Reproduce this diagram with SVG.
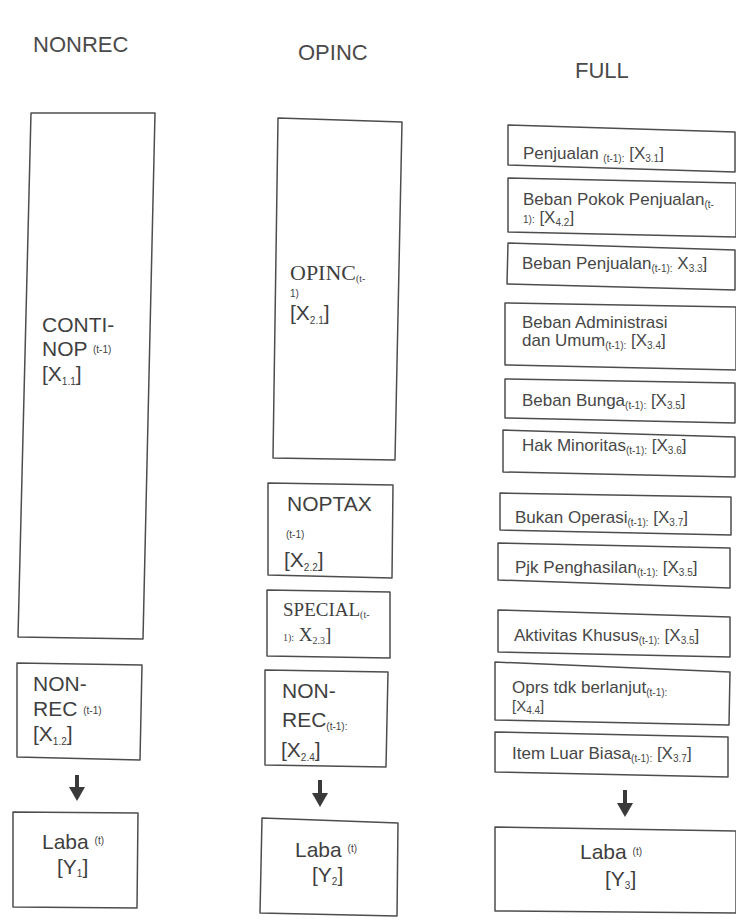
<svg xmlns="http://www.w3.org/2000/svg" width="736" height="921" viewBox="0 0 736 921">
<style>
.bg{fill:#ffffff}
.box{fill:none;stroke:#4d4d4d;stroke-width:1.5;stroke-linejoin:round}
.t{font-family:"Liberation Sans",Arial,sans-serif;fill:#3f3f3f}
.hd{font-size:22px;fill:#4a4a4a}
.big{font-size:21px}
.med{font-size:17px;fill:#474747}
.serif{font-family:"Liberation Serif","Times New Roman",serif}
.s{font-size:10px}
.arrow{stroke:#3a3a3a;stroke-width:4;fill:none}
</style>
<defs>
<marker id="head" markerUnits="userSpaceOnUse" markerWidth="14" markerHeight="16" refX="0" refY="8" orient="auto">
<path d="M0,0 L14,8 L0,16 Z" fill="#3a3a3a"/>
</marker>
</defs>
<rect class="bg" x="0" y="0" width="736" height="921"/>

<g id="headers">
<text class="t hd" x="33" y="52">NONREC</text>
<text class="t hd" x="298" y="60">OPINC</text>
<text class="t hd" x="575" y="78">FULL</text>
</g>

<!-- NONREC column -->
<g id="continop">
<polygon class="box" points="31,113 155,113 143,639 18,637"/>
<text class="t big" x="42" y="332">CONTI-</text>
<text class="t big" x="42" y="356">NOP <tspan class="s" dy="-3">(t-1)</tspan></text>
<text class="t big" x="42" y="381">[X<tspan class="s" dy="4">1.1</tspan><tspan dy="-4">]</tspan></text>
</g>
<g id="nonrec1">
<polygon class="box" points="17,663 142,665 140,760 17,757"/>
<text class="t big" x="33" y="691">NON-</text>
<text class="t big" x="33" y="716">REC <tspan class="s" dy="-2">(t-1)</tspan></text>
<text class="t big" x="33" y="741">[X<tspan class="s" dy="4">1.2</tspan><tspan dy="-4">]</tspan></text>
</g>
<g id="laba1">
<polygon class="box" points="13,812 138,813 137,908 13,907"/>
<text class="t big" x="42" y="849">Laba <tspan class="s" dy="-5">(t)</tspan></text>
<text class="t big" x="57" y="874">[Y<tspan class="s" dy="3">1</tspan><tspan dy="-3">]</tspan></text>
</g>

<!-- OPINC column -->
<g id="opinc">
<polygon class="box" points="278,118 402,122 395,460 273,458"/>
<text class="t big serif" x="290" y="280" style="font-size:22px">OPINC<tspan class="s" dy="2">(t-</tspan></text>
<text class="t s" x="290" y="297">1)</text>
<text class="t big" x="290" y="320">[X<tspan class="s" dy="4">2.1</tspan><tspan dy="-4">]</tspan></text>
</g>
<g id="noptax">
<polygon class="box" points="268,483 393,485 392,578 268,575"/>
<text class="t big" x="287" y="511">NOPTAX</text>
<text class="t s" x="286" y="538">(t-1)</text>
<text class="t big" x="284" y="567">[X<tspan class="s" dy="4">2.2</tspan><tspan dy="-4">]</tspan></text>
</g>
<g id="special">
<polygon class="box" points="267,590 390,592 390,658 267,656"/>
<text class="t serif" style="font-size:19px" x="283" y="616">SPECIAL<tspan class="s" dy="2">(t-</tspan></text>
<text class="t serif" style="font-size:19px" x="283" y="641"><tspan class="s">1):</tspan> X<tspan class="s" dy="3">2.3</tspan><tspan dy="-3">]</tspan></text>
</g>
<g id="nonrec2">
<polygon class="box" points="265,670 388,672 386,767 265,765"/>
<text class="t big" x="282" y="698">NON-</text>
<text class="t big" x="282" y="727">REC<tspan class="s" dy="3">(t-1):</tspan></text>
<text class="t big" x="281" y="757">[X<tspan class="s" dy="4">2.4</tspan><tspan dy="-4">]</tspan></text>
</g>
<g id="laba2">
<polygon class="box" points="262,818 398,823 397,916 260,913"/>
<text class="t big" x="295" y="857">Laba <tspan class="s" dy="-5">(t)</tspan></text>
<text class="t big" x="312" y="882">[Y<tspan class="s" dy="3">2</tspan><tspan dy="-3">]</tspan></text>
</g>

<!-- FULL column -->
<g id="penjualan">
<polygon class="box" points="508,125 735,132 735,172 508,165"/>
<text class="t med" x="523" y="159">Penjualan <tspan class="s" dy="3">(t-1):</tspan><tspan dy="-3"> [X</tspan><tspan class="s" dy="3">3.1</tspan><tspan dy="-3">]</tspan></text>
</g>
<g id="bpp">
<polygon class="box" points="508,178 736,183 736,237 508,232"/>
<text class="t med" x="523" y="205">Beban Pokok Penjualan<tspan class="s" dy="3">(t-</tspan></text>
<text class="t med" x="523" y="223"><tspan class="s">1):</tspan> [X<tspan class="s" dy="3">4.2</tspan><tspan dy="-3">]</tspan></text>
</g>
<g id="bpenj">
<polygon class="box" points="508,243 735,250 735,290 507,284"/>
<text class="t med" x="522" y="269">Beban Penjualan<tspan class="s" dy="3">(t-1):</tspan><tspan dy="-3"> X</tspan><tspan class="s" dy="3">3.3</tspan><tspan dy="-3">]</tspan></text>
</g>
<g id="badm">
<polygon class="box" points="505,303 736,307 736,370 505,365"/>
<text class="t med" x="522" y="328">Beban Administrasi</text>
<text class="t med" x="522" y="346">dan Umum<tspan class="s" dy="3">(t-1):</tspan><tspan dy="-3"> [X</tspan><tspan class="s" dy="3">3.4</tspan><tspan dy="-3">]</tspan></text>
</g>
<g id="bbunga">
<polygon class="box" points="505,379 735,383 735,423 505,418"/>
<text class="t med" x="522" y="406">Beban Bunga<tspan class="s" dy="3">(t-1):</tspan><tspan dy="-3"> [X</tspan><tspan class="s" dy="3">3.5</tspan><tspan dy="-3">]</tspan></text>
</g>
<g id="hakmin">
<polygon class="box" points="503,430 735,437 735,477 503,472"/>
<text class="t med" x="522" y="451">Hak Minoritas<tspan class="s" dy="3">(t-1):</tspan><tspan dy="-3"> [X</tspan><tspan class="s" dy="3">3.6</tspan><tspan dy="-3">]</tspan></text>
</g>
<g id="bukanop">
<polygon class="box" points="500,493 731,497 731,535 500,530"/>
<text class="t med" x="515" y="523">Bukan Operasi<tspan class="s" dy="3">(t-1):</tspan><tspan dy="-3"> [X</tspan><tspan class="s" dy="3">3.7</tspan><tspan dy="-3">]</tspan></text>
</g>
<g id="pjk">
<polygon class="box" points="498,543 730,548 730,588 498,580"/>
<text class="t med" x="515" y="573">Pjk Penghasilan<tspan class="s" dy="3">(t-1):</tspan><tspan dy="-3"> [X</tspan><tspan class="s" dy="3">3.5</tspan><tspan dy="-3">]</tspan></text>
</g>
<g id="aktivitas">
<polygon class="box" points="498,610 730,617 730,657 498,652"/>
<text class="t med" x="514" y="641">Aktivitas Khusus<tspan class="s" dy="3">(t-1):</tspan><tspan dy="-3"> [X</tspan><tspan class="s" dy="3">3.5</tspan><tspan dy="-3">]</tspan></text>
</g>
<g id="oprs">
<polygon class="box" points="495,662 730,672 729,725 495,720"/>
<text class="t med" x="512" y="693">Oprs tdk berlanjut<tspan class="s" dy="3">(t-1):</tspan></text>
<text class="t" style="font-size:15px;fill:#474747" x="512" y="711">[X<tspan class="s" dy="3">4.4</tspan><tspan dy="-3">]</tspan></text>
</g>
<g id="itemluar">
<polygon class="box" points="495,732 728,737 728,777 495,772"/>
<text class="t med" x="512" y="759">Item Luar Biasa<tspan class="s" dy="3">(t-1):</tspan><tspan dy="-3"> [X</tspan><tspan class="s" dy="3">3.7</tspan><tspan dy="-3">]</tspan></text>
</g>
<g id="laba3">
<polygon class="box" points="495,827 736,831 736,913 495,911"/>
<text class="t big" x="580" y="859">Laba <tspan class="s" dy="-4">(t)</tspan></text>
<text class="t big" x="605" y="886">[Y<tspan class="s" dy="3">3</tspan><tspan dy="-3">]</tspan></text>
</g>

<g id="connectors">
<line class="arrow" x1="77" y1="775" x2="77" y2="787" marker-end="url(#head)"/>
<line class="arrow" x1="320" y1="780" x2="320" y2="793" marker-end="url(#head)"/>
<line class="arrow" x1="625" y1="790" x2="625" y2="803" marker-end="url(#head)"/>
</g>
</svg>
